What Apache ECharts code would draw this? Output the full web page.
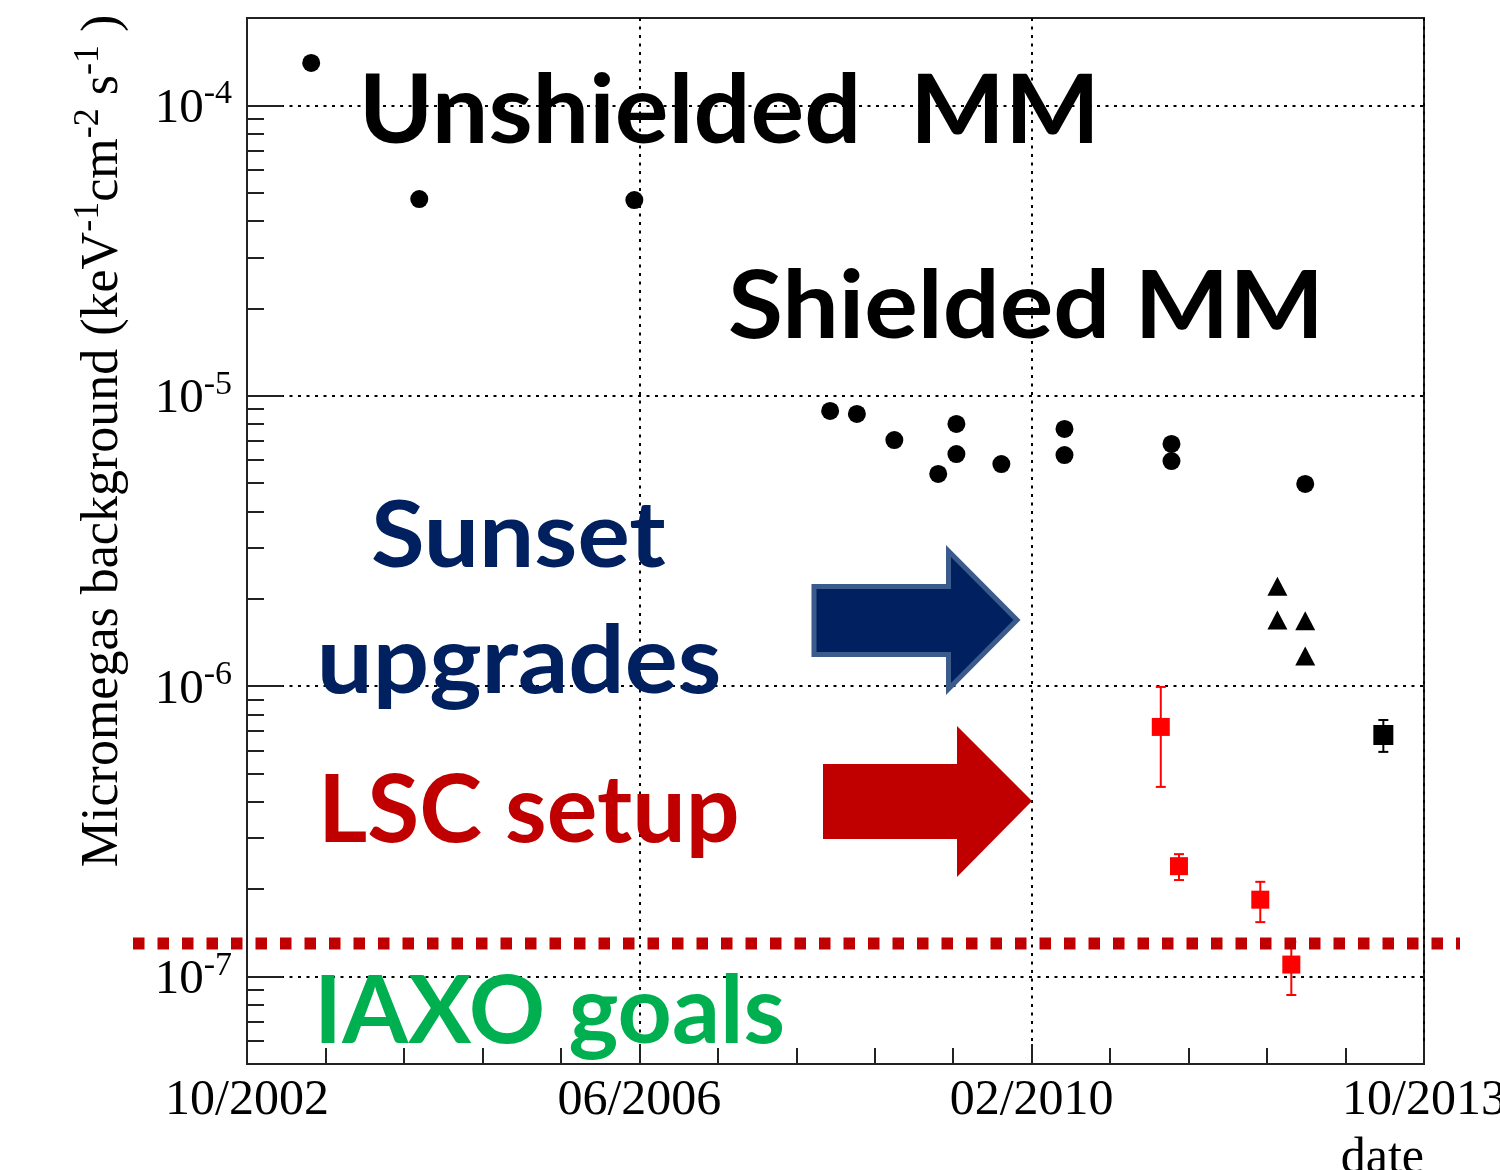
<!DOCTYPE html>
<html>
<head>
<meta charset="utf-8">
<script src="https://cdn.jsdelivr.net/npm/echarts@6/dist/echarts.min.js"></script>
<style>
html,body{margin:0;padding:0;background:#fff;}
#chart{width:1500px;height:1170px;}
</style>
</head>
<body>
<div id="chart"></div>
<script>
// ---------------- data ----------------
// x values are decimal years, y values in keV^-1 cm^-2 s^-1
const X_TICK_LABELS = ['10/2002', '06/2006', '02/2010', '10/2013'];
const Y_MAJOR_TICKS = [1e-7, 1e-6, 1e-5, 1e-4];
const MINOR_MULTIPLIERS = [2, 3, 4, 5, 6, 7, 8, 9];
const MINOR_DECADES = [-8, -7, -6, -5];

const circleDates  = [2003.35, 2004.36, 2006.37, 2008.20, 2008.45, 2008.80, 2009.21, 2009.38, 2009.38, 2009.80, 2010.39, 2010.39, 2011.39, 2011.39, 2012.64];
const circleValues = [1.40e-4, 4.76e-5, 4.72e-5, 8.87e-6, 8.66e-6, 7.04e-6, 5.38e-6, 8.00e-6, 6.30e-6, 5.82e-6, 7.69e-6, 6.25e-6, 6.83e-6, 5.96e-6, 4.97e-6];

const triangleDates  = [2012.38, 2012.38, 2012.64, 2012.64];
const triangleValues = [2.21e-6, 1.69e-6, 1.68e-6, 1.27e-6];

const lscDates    = [2011.29, 2011.46, 2012.22, 2012.51];
const lscValues   = [7.24e-7, 2.40e-7, 1.84e-7, 1.10e-7];
const lscErrLow   = [4.50e-7, 2.15e-7, 1.54e-7, 8.64e-8];
const lscErrHigh  = [9.94e-7, 2.64e-7, 2.12e-7, 1.32e-7];

const latestDates   = [2013.37];
const latestValues  = [6.79e-7];
const latestErrLow  = [5.94e-7];
const latestErrHigh = [7.65e-7];

const IAXO_GOAL = 1.3e-7;

// ---------------- helpers ----------------
const X_START = 2002.75;      // October 2002
const X_SPAN_MONTHS = 132;    // to October 2013
const X_TICK_MONTHS = 44;
function toM(d) { return +((d - X_START) * 12).toFixed(3); }

const minorTickValues = [];
MINOR_DECADES.forEach(function (e) {
  MINOR_MULTIPLIERS.forEach(function (k) {
    const v = Number((k * Math.pow(10, e)).toPrecision(3));
    if (v > 5e-8 && v < 2e-4) minorTickValues.push(v);
  });
});

function pts(xs, ys) { return xs.map(function (x, i) { return [toM(x), ys[i]]; }); }
function errs(xs, lo, hi) { return xs.map(function (x, i) { return [toM(x), lo[i], hi[i]]; }); }

function errorBarRenderer(color, capHalf) {
  return function (params, api) {
    const x = api.value(0);
    const top = api.coord([x, api.value(2)]);
    const bot = api.coord([x, api.value(1)]);
    const st = { stroke: color, lineWidth: 2 };
    return {
      type: 'group',
      children: [
        { type: 'line', shape: { x1: top[0], y1: top[1], x2: bot[0], y2: bot[1] }, style: st },
        { type: 'line', shape: { x1: top[0] - capHalf, y1: top[1], x2: top[0] + capHalf, y2: top[1] }, style: st },
        { type: 'line', shape: { x1: bot[0] - capHalf, y1: bot[1], x2: bot[0] + capHalf, y2: bot[1] }, style: st }
      ]
    };
  };
}

const SERIF = 'Liberation Serif';
const AXIS_COLOR = '#222';
const gridDots = { color: '#000', width: 2, type: [3, 5.5] };

const chart = echarts.init(document.getElementById('chart'), null, { renderer: 'canvas' });

const option = {
  backgroundColor: '#fff',
  animation: false,
  grid: {
    left: 247, right: 76, top: 18, bottom: 106,
    containLabel: false, outerBoundsMode: 'none',
    show: true, borderColor: AXIS_COLOR, borderWidth: 2, backgroundColor: 'transparent'
  },
  xAxis: {
    type: 'value', min: 0, max: X_SPAN_MONTHS, interval: X_TICK_MONTHS,
    axisLine: { show: true, lineStyle: { color: AXIS_COLOR, width: 2 } },
    axisTick: { show: true, inside: true, length: 20, lineStyle: { color: AXIS_COLOR, width: 2 } },
    minorTick: { show: true, splitNumber: 5, length: 16, lineStyle: { color: AXIS_COLOR, width: 2 } },
    splitLine: { show: true, lineStyle: gridDots },
    axisLabel: {
      formatter: function (v) { return X_TICK_LABELS[Math.round(v / X_TICK_MONTHS)]; },
      fontFamily: SERIF, fontSize: 50, color: '#000', margin: 12,
      showMinLabel: true, showMaxLabel: true
    },
    name: 'date', nameLocation: 'end', nameGap: 0,
    nameTextStyle: { fontFamily: SERIF, fontSize: 50, color: '#000', align: 'right', verticalAlign: 'top', padding: [70, 0, 0, 0] }
  },
  yAxis: [
    {
      type: 'log', logBase: 10, min: 5e-8, max: 2e-4,
      axisLine: { show: true, lineStyle: { color: AXIS_COLOR, width: 2 } },
      axisTick: { show: true, inside: true, length: 36, customValues: Y_MAJOR_TICKS, lineStyle: { color: AXIS_COLOR, width: 2 } },
      minorTick: { show: false },
      splitLine: { show: true, lineStyle: gridDots },
      axisLabel: {
        customValues: Y_MAJOR_TICKS,
        margin: 15,
        formatter: function (v) { return '{t|10}{s|' + Math.round(Math.log10(v)) + '}'; },
        rich: {
          t: { fontFamily: SERIF, fontSize: 49, color: '#000', lineHeight: 56, verticalAlign: 'bottom' },
          s: { fontFamily: SERIF, fontSize: 34, color: '#000', lineHeight: 34, verticalAlign: 'top' }
        }
      },
      name: '{t|Micromegas background (keV}{s|-1}{t|cm}{s|-2}{t| s}{s|-1}{t| )}',
      nameLocation: 'middle', nameRotate: 90, nameGap: 118,
      nameTextStyle: {
        padding: [0, 0, 0, 200],
        rich: {
          t: { fontFamily: SERIF, fontSize: 52, color: '#000', lineHeight: 58, verticalAlign: 'bottom' },
          s: { fontFamily: SERIF, fontSize: 36, color: '#000', lineHeight: 36, verticalAlign: 'top' }
        }
      }
    },
    {
      type: 'log', logBase: 10, min: 5e-8, max: 2e-4, position: 'left',
      axisLine: { show: false },
      axisTick: { show: true, inside: true, length: 17, customValues: minorTickValues, lineStyle: { color: AXIS_COLOR, width: 2 } },
      axisLabel: { show: false },
      splitLine: { show: false },
      minorTick: { show: false }
    }
  ],
  series: [
    {
      name: 'LSC errors', type: 'custom', z: 3,
      data: errs(lscDates, lscErrLow, lscErrHigh),
      encode: { x: 0, y: [1, 2] },
      renderItem: errorBarRenderer('#ff0000', 5)
    },
    {
      name: 'latest errors', type: 'custom', z: 3,
      data: errs(latestDates, latestErrLow, latestErrHigh),
      encode: { x: 0, y: [1, 2] },
      renderItem: errorBarRenderer('#000', 5)
    },
    {
      name: 'unshielded / shielded', type: 'scatter', z: 4,
      symbol: 'circle', symbolSize: 18,
      itemStyle: { color: '#000', opacity: 1 },
      data: pts(circleDates, circleValues)
    },
    {
      name: 'sunset upgrades', type: 'scatter', z: 4,
      symbol: 'triangle', symbolSize: [20, 19],
      itemStyle: { color: '#000', opacity: 1 },
      data: pts(triangleDates, triangleValues)
    },
    {
      name: 'LSC setup', type: 'scatter', z: 4,
      symbol: 'rect', symbolSize: 18,
      itemStyle: { color: '#ff0000', opacity: 1 },
      data: pts(lscDates, lscValues)
    },
    {
      name: 'latest', type: 'scatter', z: 4,
      symbol: 'rect', symbolSize: 20,
      itemStyle: { color: '#000', opacity: 1 },
      data: pts(latestDates, latestValues)
    }
  ]
};
chart.setOption(option);

// ---------------- annotations ----------------
const ANNOTATIONS = [
  { text: 'Unshielded  MM', color: '#000000', left: 365, right: 1092, capTop: 73,  baseline: 143 },
  { text: 'Shielded MM',    color: '#000000', left: 730, right: 1316, capTop: 270, baseline: 338 },
  { text: 'Sunset',         color: '#002060', left: 373, right: 666,  capTop: 500, baseline: 567 },
  { text: 'upgrades',       color: '#002060', left: 322, right: 719,  capTop: 625, baseline: 693 },
  { text: 'LSC setup',      color: '#c00000', left: 325, right: 737,  capTop: 773, baseline: 842 },
  { text: 'IAXO goals',     color: '#00b050', left: 321, right: 783,  capTop: 975, baseline: 1043 }
];

const FONT = 'bold 96px Lato';
const mctx = document.createElement('canvas').getContext('2d');
mctx.font = FONT;
mctx.textBaseline = 'middle';
const mH = mctx.measureText('H');
const capMeasured = mH.actualBoundingBoxAscent + mH.actualBoundingBoxDescent;
const midToBase = mH.actualBoundingBoxDescent;

const graphics = [];

ANNOTATIONS.forEach(function (a) {
  const m = mctx.measureText(a.text);
  const ink = m.actualBoundingBoxLeft + m.actualBoundingBoxRight;
  const sy = (a.baseline - a.capTop) / capMeasured;
  const sx = (a.right - a.left) / ink;
  graphics.push({
    type: 'text', z: 60,
    x: a.left + sx * m.actualBoundingBoxLeft,
    y: a.baseline - sy * midToBase,
    scaleX: sx, scaleY: sy,
    style: { text: a.text, font: FONT, fill: a.color, align: 'left', verticalAlign: 'middle', textAlign: 'left', textVerticalAlign: 'middle' }
  });
});

// arrows
graphics.push({
  type: 'polygon', z: 55,
  shape: { points: [[814, 586.5], [948.5, 586.5], [948.5, 551], [1017, 620], [948.5, 689], [948.5, 654.5], [814, 654.5]] },
  style: { fill: '#002060', stroke: '#3a5b8c', lineWidth: 5, lineJoin: 'miter' }
});
graphics.push({
  type: 'polygon', z: 55,
  shape: { points: [[823, 764], [957, 764], [957, 726], [1032, 801], [957, 877], [957, 839], [823, 839]] },
  style: { fill: '#c00000' }
});

// IAXO goal dotted line (extends beyond the frame)
const yGoal = chart.convertToPixel({ yAxisIndex: 0 }, IAXO_GOAL);
graphics.push({
  type: 'line', z: 50,
  shape: { x1: 133, y1: yGoal, x2: 1460, y2: yGoal },
  style: { stroke: '#c00000', lineWidth: 12, lineDash: [11.5, 13], lineCap: 'butt' }
});

chart.setOption({ graphic: graphics });
</script>
</body>
</html>
